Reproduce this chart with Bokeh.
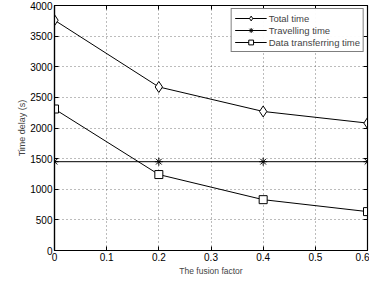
from bokeh.plotting import figure
from bokeh.models import LinearAxis, Range1d, FixedTicker, Legend, LegendItem
from bokeh.embed import file_html
from bokeh.resources import INLINE

x = [0.0, 0.2, 0.4, 0.6]
total_time = [3760, 2670, 2270, 2080]
travel_time = [1450, 1450, 1450, 1450]
data_time = [2310, 1240, 830, 635]
x_ticks = [0, 0.1, 0.2, 0.3, 0.4, 0.5, 0.6]
y_ticks = [0, 500, 1000, 1500, 2000, 2500, 3000, 3500, 4000]

FONT = "Liberation Sans"

p = figure(width=369, height=278, output_backend="svg", toolbar_location=None,
           x_range=Range1d(0, 0.6), y_range=Range1d(0, 4000),
           min_border_left=54, min_border_right=2, min_border_top=5, min_border_bottom=4)
p.outline_line_color = "black"
p.outline_line_width = 1.2

for ax in p.xaxis + p.yaxis:
    ax.major_tick_in = 4
    ax.major_tick_out = 0
    ax.minor_tick_in = 0
    ax.minor_tick_out = 0
    ax.axis_line_color = "black"
    ax.axis_line_width = 1.2
    ax.major_label_text_font = FONT
    ax.major_label_text_font_size = "10px"
    ax.major_label_text_color = "black"
    ax.axis_label_text_font = FONT
    ax.axis_label_text_font_style = "normal"
    ax.major_label_standoff = 2
    ax.axis_label_standoff = 2

p.xaxis.axis_label_text_font_size = "8.5px"
p.yaxis.axis_label_text_font_size = "9px"
p.yaxis.axis_label_standoff = 0
p.xaxis.ticker = FixedTicker(ticks=x_ticks)
p.yaxis.ticker = FixedTicker(ticks=y_ticks)
p.xaxis.major_label_overrides = {0: "0"}
p.xaxis.axis_label = "The fusion factor"
p.yaxis.axis_label = "Time delay (s)"

right = LinearAxis(ticker=FixedTicker(ticks=y_ticks),
                   major_label_overrides={t: "" for t in y_ticks},
                   major_tick_in=4, major_tick_out=0, minor_tick_in=0, minor_tick_out=0,
                   major_label_standoff=0, axis_line_color="black")
top = LinearAxis(ticker=FixedTicker(ticks=x_ticks),
                 major_label_overrides={t: "" for t in x_ticks},
                 major_tick_in=4, major_tick_out=0, minor_tick_in=0, minor_tick_out=0,
                 major_label_standoff=0, axis_line_color="black")
p.add_layout(right, "right")
p.add_layout(top, "above")

p.xgrid.ticker = FixedTicker(ticks=x_ticks)
p.ygrid.ticker = FixedTicker(ticks=y_ticks)
for g in (p.xgrid, p.ygrid):
    g.grid_line_color = "#555555"
    g.grid_line_dash = "1 3"
    g.grid_line_width = 0.8

l1 = p.line(x, total_time, line_color="black", line_width=1)
m1 = p.scatter(x, total_time, marker="diamond", size=11, fill_color="white", line_color="black")
l2 = p.line(x, travel_time, line_color="black", line_width=1)
m2 = p.scatter(x, travel_time, marker="asterisk", size=8, line_color="black")
l3 = p.line(x, data_time, line_color="black", line_width=1)
m3 = p.scatter(x, data_time, marker="square", size=8, fill_color="white", line_color="black")

legend = Legend(items=[
    LegendItem(label="Total time", renderers=[l1, m1]),
    LegendItem(label="Travelling time", renderers=[l2, m2]),
    LegendItem(label="Data transferring time", renderers=[l3, m3]),
], location="top_right")
legend.label_text_font = FONT
legend.label_text_font_size = "9.5px"
legend.label_height = 12
legend.glyph_height = 12
legend.glyph_width = 32
legend.spacing = 0
legend.padding = 3
legend.margin = 3
legend.label_standoff = 2
legend.border_line_color = "black"
legend.border_line_width = 1
p.add_layout(legend)

open("out.html", "w").write(file_html(p, INLINE))
